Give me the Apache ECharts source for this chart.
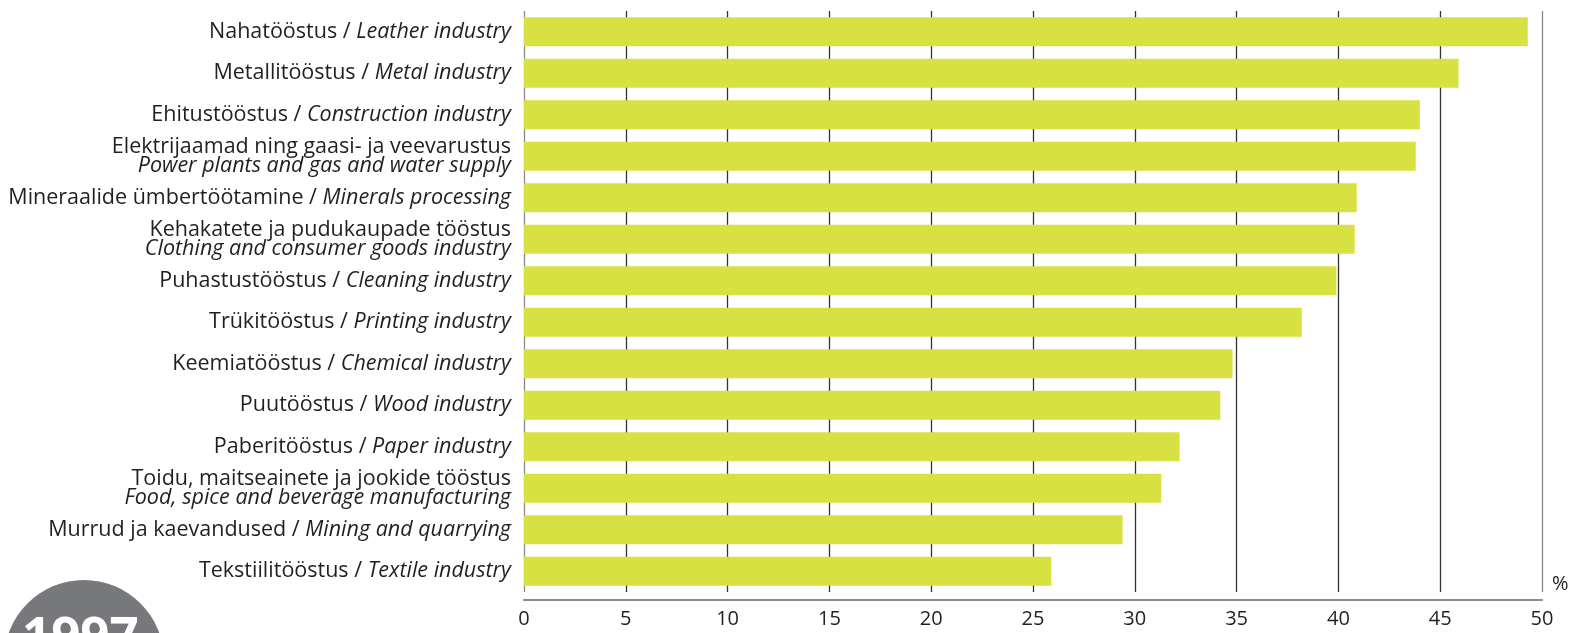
<!DOCTYPE html>
<html><head><meta charset="utf-8">
<script src="https://cdn.jsdelivr.net/npm/echarts@6/dist/echarts.min.js"></script>
<style>html,body{margin:0;padding:0;background:#fff}#c{width:1591px;height:633px}</style>
</head><body><div id="c"></div>
<script>
var namesEt = ['Nahatööstus','Metallitööstus','Ehitustööstus','Elektrijaamad ning gaasi- ja veevarustus','Mineraalide ümbertöötamine','Kehakatete ja pudukaupade tööstus','Puhastustööstus','Trükitööstus','Keemiatööstus','Puutööstus','Paberitööstus','Toidu, maitseainete ja jookide tööstus','Murrud ja kaevandused','Tekstiilitööstus'];
var namesEn = ['Leather industry','Metal industry','Construction industry','Power plants and gas and water supply','Minerals processing','Clothing and consumer goods industry','Cleaning industry','Printing industry','Chemical industry','Wood industry','Paper industry','Food, spice and beverage manufacturing','Mining and quarrying','Textile industry'];
var twoLine = [false,false,false,true,false,true,false,false,false,false,false,true,false,false];
var values = [49.3,45.9,44.0,43.8,40.9,40.8,39.9,38.2,34.8,34.2,32.2,31.3,29.4,25.9];
var xTicks = {min:0, max:50, interval:5};
var yearLabel = '1997';

var cats = namesEt.map(function(e,i){return i;});
var font = 'Open Sans';
var chart = echarts.init(document.getElementById('c'), null, {renderer:'canvas'});
chart.setOption({
  animation:false,
  grid:{left:524, right:49, top:11, bottom:41, containLabel:false},
  xAxis:{type:'value', min:xTicks.min, max:xTicks.max, interval:xTicks.interval, offset:8,
    axisLine:{show:true, lineStyle:{color:'#8a8a8a', width:2}},
    axisTick:{show:false},
    axisLabel:{color:'#231f20', fontSize:20, fontFamily:font, margin:9},
    splitLine:{show:true, lineStyle:{width:1.3, color:['#8a8a8a','#333','#333','#333','#333','#333','#333','#333','#333','#333','#8a8a8a']}}
  },
  yAxis:{type:'category', inverse:true, data:cats,
    axisLine:{show:false}, axisTick:{show:false},
    axisLabel:{margin:13, align:'right', lineHeight:19.5,
      formatter:function(v){var i=+v; return twoLine[i] ? '{a|'+namesEt[i]+'}\n{b|'+namesEn[i]+'}' : '{a|'+namesEt[i]+' / }{b|'+namesEn[i]+'}';},
      rich:{a:{fontSize:21.5, fontFamily:font, color:'#231f20', lineHeight:19.5},
            b:{fontSize:21.5, fontFamily:font, fontStyle:'italic', color:'#231f20', lineHeight:19.5}}
    }
  },
  series:[{type:'bar', data:values, barWidth:29, itemStyle:{color:'#d7e141'}, silent:true}],
  graphic:[
    {type:'text', left:1552, top:574, style:{text:'%', fontSize:20, fontFamily:font, fill:'#231f20'}},
    {type:'circle', shape:{cx:84, cy:660, r:80}, style:{fill:'#77787b'}},
    {type:'text', left:22, top:613, style:{text:yearLabel, fontSize:51, fontWeight:'bold', fontFamily:'Open Sans', fill:'#fff'}}
  ]
});
</script></body></html>
